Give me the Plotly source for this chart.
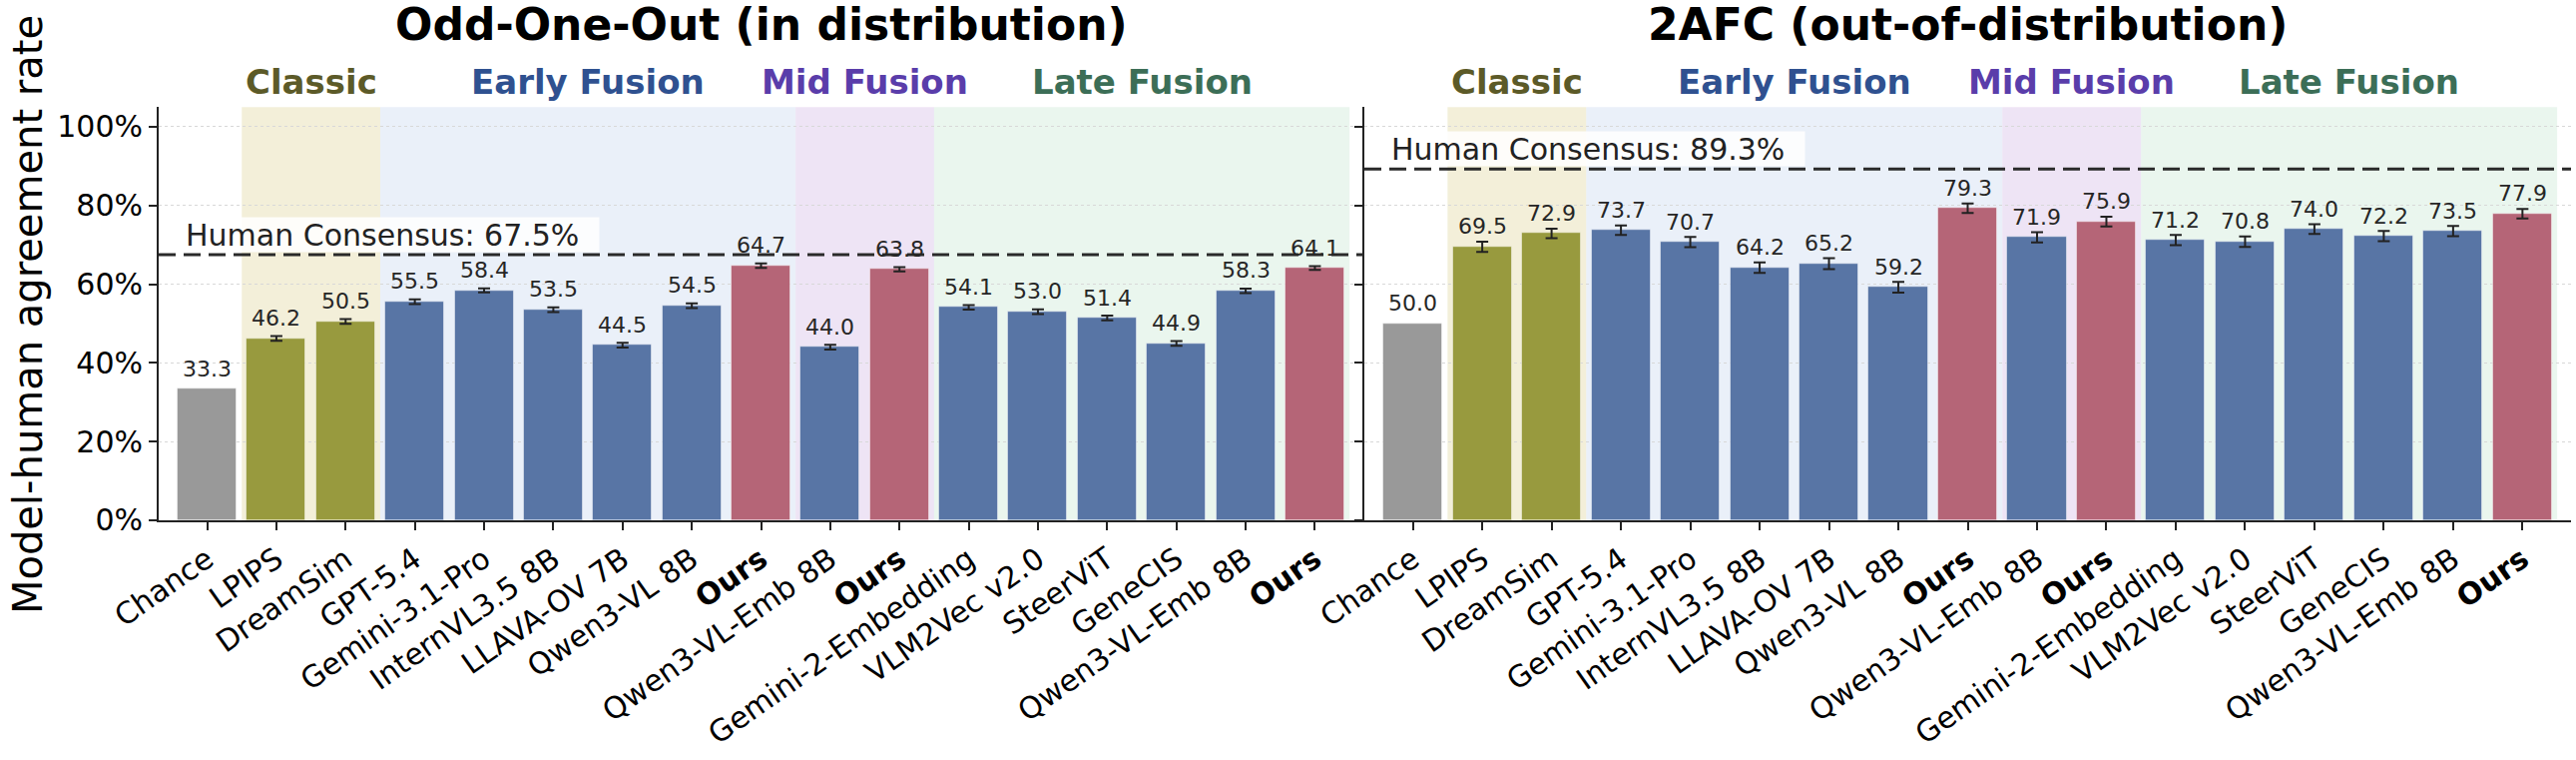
import plotly.graph_objects as go

# ---------------- data ----------------
labels = ["Chance", "LPIPS", "DreamSim", "GPT-5.4", "Gemini-3.1-Pro", "InternVL3.5 8B",
          "LLAVA-OV 7B", "Qwen3-VL 8B", "Ours", "Qwen3-VL-Emb 8B", "Ours",
          "Gemini-2-Embedding", "VLM2Vec v2.0", "SteerViT", "GeneCIS", "Qwen3-VL-Emb 8B", "Ours"]
kinds = ["chance", "classic", "classic", "model", "model", "model", "model", "model", "ours",
         "model", "ours", "model", "model", "model", "model", "model", "ours"]

ooo_vals = [33.3, 46.2, 50.5, 55.5, 58.4, 53.5, 44.5, 54.5, 64.7, 44.0, 63.8,
            54.1, 53.0, 51.4, 44.9, 58.3, 64.1]
ooo_err = [None, 0.6, 0.6, 0.6, 0.5, 0.6, 0.6, 0.6, 0.55, 0.6, 0.55,
           0.6, 0.6, 0.6, 0.6, 0.55, 0.5]
afc_vals = [50.0, 69.5, 72.9, 73.7, 70.7, 64.2, 65.2, 59.2, 79.3, 71.9, 75.9,
            71.2, 70.8, 74.0, 72.2, 73.5, 77.9]
afc_err = [None, 1.3, 1.2, 1.2, 1.3, 1.35, 1.4, 1.35, 1.2, 1.3, 1.25,
           1.3, 1.35, 1.25, 1.3, 1.3, 1.2]

human_ooo = 67.5
human_afc = 89.3

group_names = ["Classic", "Early Fusion", "Mid Fusion", "Late Fusion"]
group_first = [1, 3, 9, 11]
group_last = [2, 8, 10, 16]

panel_titles = ["Odd-One-Out (in distribution)", "2AFC (out-of-distribution)"]
y_ticks = [0, 20, 40, 60, 80, 100]

# ---------------- style ----------------
FONT = "DejaVu Sans"
bar_colors = {"chance": "#999999", "classic": "#989a3e", "model": "#5875a5", "ours": "#b56577"}
group_bg = ["rgba(236,231,196,0.65)", "rgba(214,226,243,0.5)",
            "rgba(226,210,238,0.6)", "rgba(214,238,222,0.5)"]
group_fg = ["#5c5a28", "#2f5190", "#5a3daa", "#3c6e57"]

W, H = 2581, 761
x_dom = [[159 / W, 1366 / W], [1367 / W, 2576 / W]]
y_dom = [(H - 520.8) / H, (H - 107.3) / H]
X_RANGE = [-0.7, 16.7]
Y_RANGE = [0, 105]

xs = list(range(len(labels)))
ticktext = ["<b>Ours</b>" if l == "Ours" else l for l in labels]

fig = go.Figure()

panels = [(ooo_vals, ooo_err, human_ooo), (afc_vals, afc_err, human_afc)]
shapes = []
annotations = []

for p, (vals, errs, human) in enumerate(panels):
    xa = "x" if p == 0 else "x2"
    ya = "y" if p == 0 else "y2"
    with_err = [i for i in xs if errs[i] is not None]
    no_err = [i for i in xs if errs[i] is None]
    for idx, has_err in ((with_err, True), (no_err, False)):
        if not idx:
            continue
        fig.add_trace(go.Bar(
            x=idx, y=[vals[i] for i in idx], width=0.85,
            marker=dict(color=[bar_colors[kinds[i]] for i in idx],
                        line=dict(color="rgba(255,255,255,0.45)", width=1)),
            error_y=dict(type="data", array=[errs[i] for i in idx], visible=True,
                         color="#222222", thickness=2, width=6) if has_err else None,
            xaxis=xa, yaxis=ya, showlegend=False, hoverinfo="skip",
        ))
    # group shading + labels
    for g in range(len(group_names)):
        shapes.append(dict(type="rect", xref=xa, yref=f"{ya} domain",
                           x0=group_first[g] - 0.5, x1=group_last[g] + 0.5, y0=0, y1=1,
                           fillcolor=group_bg[g], line=dict(width=0), layer="below"))
        annotations.append(dict(text=f"<b>{group_names[g]}</b>", xref=xa, yref="paper",
                                x=(group_first[g] + group_last[g]) / 2, y=1 - 82.5 / H,
                                xanchor="center", yanchor="middle", showarrow=False,
                                font=dict(family=FONT, size=34, color=group_fg[g])))
    # human consensus line
    shapes.append(dict(type="line", xref=f"{xa} domain", yref=ya, x0=0, x1=1,
                       y0=human, y1=human, line=dict(color="#2a2a2a", width=3, dash="17px,8px"),
                       layer="above"))
    annotations.append(dict(text=f"Human Consensus: {human}%", xref=xa, yref=ya,
                            x=-0.36, y=human, xanchor="left", yanchor="bottom",
                            yshift=2, showarrow=False, align="left",
                            bgcolor="rgba(255,255,255,0.85)", borderpad=2,
                            width=412, height=30,
                            font=dict(family=FONT, size=30, color="#222222")))
    # value labels
    for i, v in enumerate(vals):
        annotations.append(dict(text=f"{v:.1f}", xref=xa, yref=ya, x=i, y=v + 3,
                                xanchor="center", yanchor="bottom", yshift=-6,
                                showarrow=False,
                                font=dict(family=FONT, size=22, color="#262626")))
    # panel title
    annotations.append(dict(text=f"<b>{panel_titles[p]}</b>", xref="paper", yref="paper",
                            x=(x_dom[p][0] + x_dom[p][1]) / 2, y=1 - 25 / H,
                            xanchor="center", yanchor="middle", showarrow=False,
                            font=dict(family=FONT, size=44, color="#000000")))

annotations.append(dict(text="Model-human agreement rate", xref="paper", yref="paper",
                        x=28 / W, y=1 - 315 / H, textangle=-90, xanchor="center",
                        yanchor="middle", showarrow=False,
                        font=dict(family=FONT, size=40, color="#000000")))

axis_common = dict(showline=True, linecolor="#222222", linewidth=2, ticks="outside",
                   ticklen=8, tickwidth=2, tickcolor="#222222", mirror=False,
                   zeroline=False, automargin=False)
xaxis_common = dict(axis_common, range=X_RANGE, tickmode="array", tickvals=xs,
                    ticktext=ticktext, tickangle=-35, showgrid=False,
                    tickfont=dict(family=FONT, size=30, color="#000000"))
yaxis_common = dict(axis_common, range=Y_RANGE, tickmode="array", tickvals=y_ticks,
                    ticktext=[f"{t}%" for t in y_ticks], showgrid=True,
                    gridcolor="#d8d8d8", gridwidth=1, griddash="dot",
                    tickfont=dict(family=FONT, size=30, color="#000000"))

fig.update_layout(
    width=W, height=H,
    margin=dict(l=0, r=0, t=0, b=0, autoexpand=False),
    paper_bgcolor="white", plot_bgcolor="rgba(0,0,0,0)",
    font=dict(family=FONT),
    bargap=0, barmode="overlay",
    xaxis=dict(xaxis_common, domain=x_dom[0], anchor="y"),
    yaxis=dict(yaxis_common, domain=y_dom, anchor="x"),
    xaxis2=dict(xaxis_common, domain=x_dom[1], anchor="y2"),
    yaxis2=dict(yaxis_common, domain=y_dom, anchor="x2", showticklabels=False),
    shapes=shapes,
    annotations=annotations,
)

fig.write_html("out.html")
